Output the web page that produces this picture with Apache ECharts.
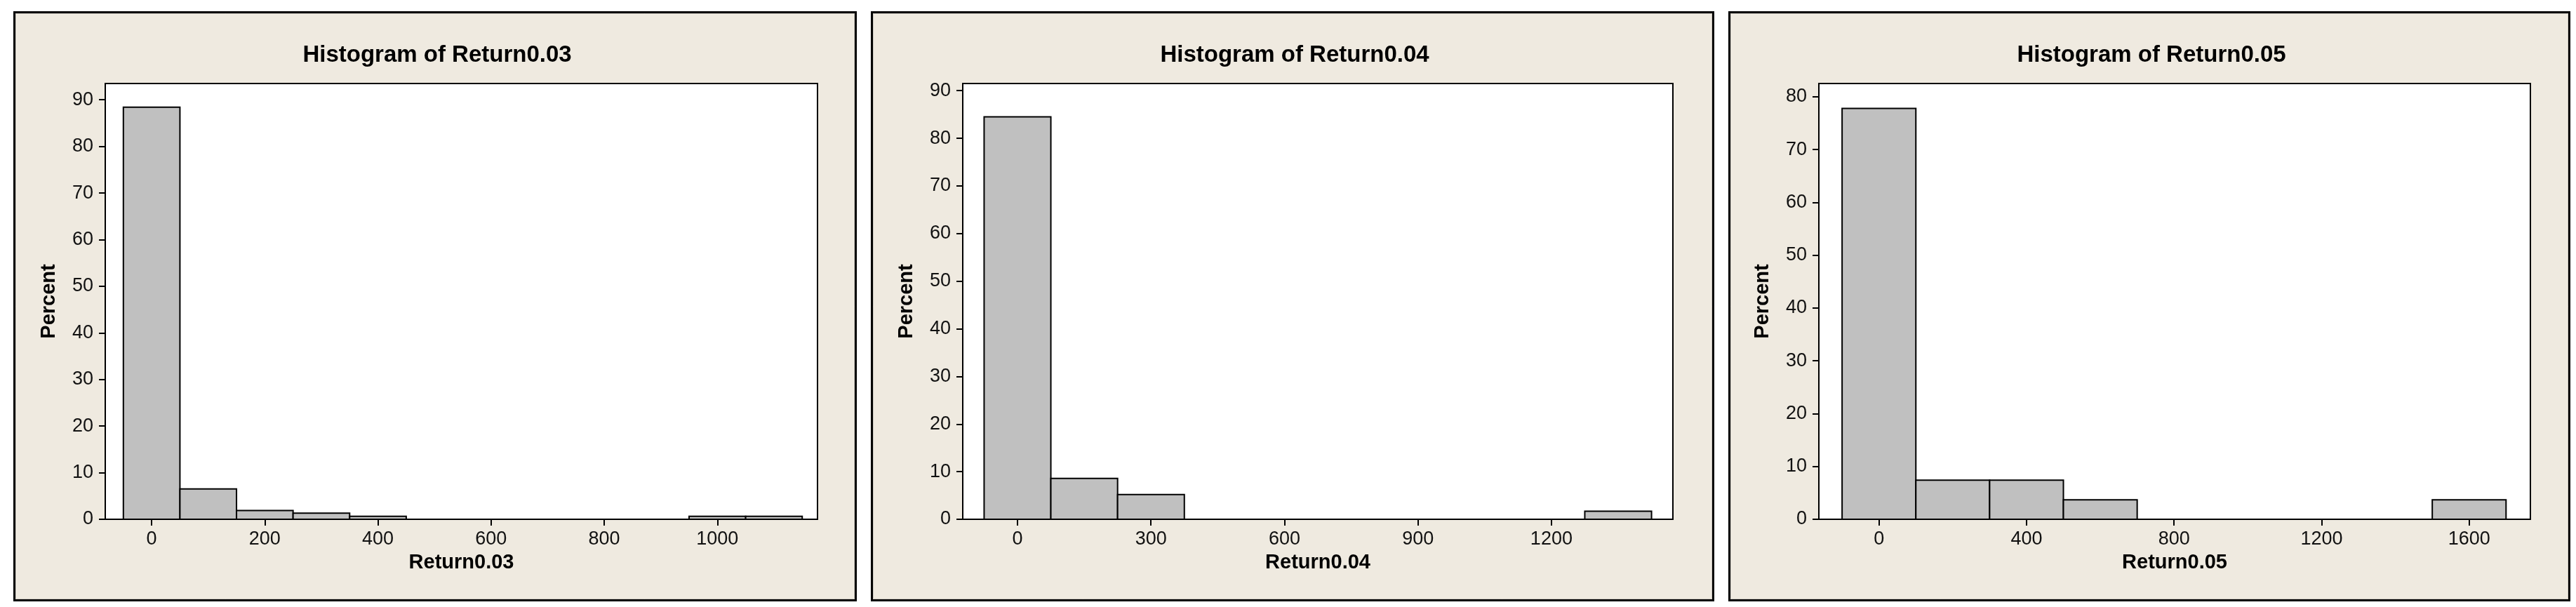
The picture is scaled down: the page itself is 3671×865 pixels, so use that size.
<!DOCTYPE html>
<html>
<head>
<meta charset="utf-8">
<title>Histograms of Return</title>
<script src="https://cdn.jsdelivr.net/npm/echarts@6/dist/echarts.min.js"></script>
<style>
  html, body { margin: 0; padding: 0; background: #fff; }
  #main { width: 3671px; height: 865px; }
</style>
</head>
<body>
<div id="main"></div>
<script>
// bin midpoints and percents
const ret03Mids = [0, 100, 200, 300, 400, 500, 600, 700, 800, 900, 1000, 1100]
const ret03Pct = [88.4, 6.5, 1.9, 1.3, 0.65, 0, 0, 0, 0, 0, 0.65, 0.65]
const ret03Ticks = [0, 200, 400, 600, 800, 1000]

const ret04Mids = [0, 150, 300, 450, 600, 750, 900, 1050, 1200, 1350]
const ret04Pct = [84.5, 8.6, 5.2, 0, 0, 0, 0, 0, 0, 1.7]
const ret04Ticks = [0, 300, 600, 900, 1200]

const ret05Mids = [0, 200, 400, 600, 800, 1000, 1200, 1400, 1600]
const ret05Pct = [77.8, 7.4, 7.4, 3.7, 0, 0, 0, 0, 3.7]
const ret05Ticks = [0, 400, 800, 1200, 1600]

const pctTicks90 = [0, 10, 20, 30, 40, 50, 60, 70, 80, 90]
const pctTicks80 = [0, 10, 20, 30, 40, 50, 60, 70, 80]

const panels = [
  { name: 'Return0.03', mids: ret03Mids, pct: ret03Pct, width: 100, ticks: ret03Ticks, yTicks: pctTicks90,
    box: [19, 1221], grid: [150, 1015], xMin: -82, xMax: 1177, yMax: 93.5 },
  { name: 'Return0.04', mids: ret04Mids, pct: ret04Pct, width: 150, ticks: ret04Ticks, yTicks: pctTicks90,
    box: [1241, 2443], grid: [1372, 1012], xMin: -123, xMax: 1473, yMax: 91.5 },
  { name: 'Return0.05', mids: ret05Mids, pct: ret05Pct, width: 200, ticks: ret05Ticks, yTicks: pctTicks80,
    box: [2463, 3663], grid: [2592, 1014], xMin: -163, xMax: 1766, yMax: 82.5 }
]

const font = 'Liberation Sans'
const title = []
const grid = []
const xAxis = []
const yAxis = []
const series = []
const graphic = []

panels.forEach((p, i) => {
  const [bx0, bx1] = p.box
  graphic.push({
    type: 'rect', z: -10,
    shape: { x: bx0 + 1.5, y: 17.5, width: bx1 - bx0 - 3, height: 838 },
    style: { fill: '#efeae0', stroke: '#000', lineWidth: 3 }
  })
  graphic.push({
    type: 'rect', z: -9,
    shape: { x: bx0 + 3.5, y: 19.5, width: bx1 - bx0 - 7, height: 834 },
    style: { fill: null, stroke: '#cfcbc3', lineWidth: 1 }
  })
  title.push({
    text: 'Histogram of ' + p.name,
    left: (bx0 + bx1) / 2 - 2,
    top: 57,
    textAlign: 'center',
    textStyle: { fontFamily: font, fontWeight: 'bold', fontSize: 33, color: '#000' }
  })
  grid.push({
    left: p.grid[0], top: 119, width: p.grid[1], height: 621,
    show: true, backgroundColor: '#fff', borderColor: '#000', borderWidth: 2
  })
  xAxis.push({
    type: 'value', gridIndex: i, min: p.xMin, max: p.xMax,
    name: p.name, nameLocation: 'middle', nameGap: 47,
    nameTextStyle: { fontFamily: font, fontWeight: 'bold', fontSize: 29, color: '#000' },
    axisLine: { show: true, onZero: false, lineStyle: { color: '#000', width: 2 } },
    axisTick: { show: true, length: 9, customValues: p.ticks, lineStyle: { color: '#000', width: 2 } },
    axisLabel: { customValues: p.ticks, margin: 15, fontFamily: font, fontSize: 27, color: '#111',
      formatter: v => String(v) },
    splitLine: { show: false }
  })
  yAxis.push({
    type: 'value', gridIndex: i, min: 0, max: p.yMax,
    name: 'Percent', nameLocation: 'middle', nameGap: 66,
    nameTextStyle: { fontFamily: font, fontWeight: 'bold', fontSize: 29, color: '#000' },
    axisLine: { show: true, onZero: false, lineStyle: { color: '#000', width: 2 } },
    axisTick: { show: true, length: 9, customValues: p.yTicks, lineStyle: { color: '#000', width: 2 } },
    axisLabel: { customValues: p.yTicks, margin: 17, fontFamily: font, fontSize: 27, color: '#111',
      formatter: v => String(v) },
    splitLine: { show: false }
  })
  const data = p.mids.map((m, k) => [m - p.width / 2, m + p.width / 2, p.pct[k]])
  series.push({
    type: 'custom',
    xAxisIndex: i,
    yAxisIndex: i,
    data: data,
    clip: true,
    renderItem(params, api) {
      const v = api.value(2)
      if (!v) return null
      const topLeft = api.coord([api.value(0), v])
      const botRight = api.coord([api.value(1), 0])
      return {
        type: 'rect',
        shape: { x: topLeft[0], y: topLeft[1], width: botRight[0] - topLeft[0], height: botRight[1] - topLeft[1] },
        style: { fill: '#c0c0c0', stroke: '#000', lineWidth: 2 }
      }
    }
  })
})

const myChart = echarts.init(document.getElementById('main'), null, { renderer: 'canvas' })
myChart.setOption({
  backgroundColor: '#fff',
  animation: false,
  title,
  grid,
  xAxis,
  yAxis,
  series,
  graphic
})
</script>
</body>
</html>
